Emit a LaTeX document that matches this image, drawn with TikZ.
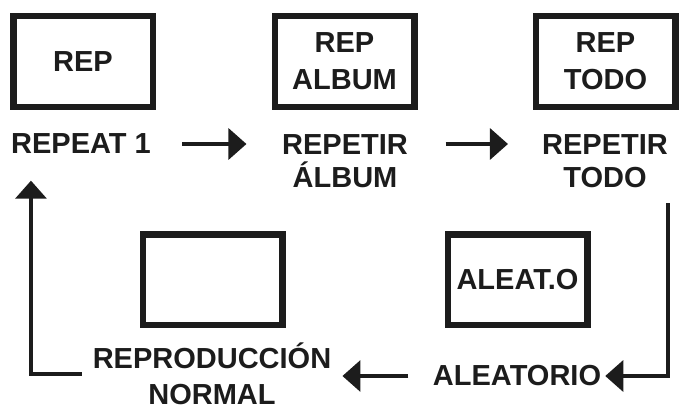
\documentclass[tikz,border=0pt]{standalone}
\usepackage{fontspec}
\setmainfont{Liberation Sans}
\usetikzlibrary{arrows.meta,calc}
\definecolor{inkBlack}{RGB}{28,28,28}
\newcommand{\bigbold}[1]{\fontsize{29}{#1}\selectfont\bfseries}
\tikzset{
  modebox/.style={draw=inkBlack,line width=6.5pt,minimum width=139.5pt,minimum height=90.5pt,
    inner sep=0pt,align=center,text=inkBlack,font={\bigbold{37}}},
  modelabel/.style={inner sep=0pt,align=center,text=inkBlack},
  flow/.style={draw=inkBlack,line width=3.4pt,-{Triangle[length=18pt,width=31pt]}}
}
\begin{document}
\begin{tikzpicture}[x=1pt,y=-1pt]
\useasboundingbox (0,0) rectangle (687,412);
% display boxes
\node[modebox] (boxRep) at (83,61.5) {REP};
\node[modebox] (boxAlb) at (344.5,61.5) {REP\\ALBUM};
\node[modebox] (boxAll) at (605.5,61.5) {REP\\TODO};
\node[modebox] (boxNorm) at (212.5,279.5) {};
\node[modebox] (boxShuf) at (517.5,279.5) {ALEAT.O};
% mode names
\node[modelabel,font={\bigbold{33}}] (labRep) at (81,144) {REPEAT 1};
\node[modelabel,font={\bigbold{33}}] (labAlb) at (345,161.25) {REPETIR\\ÁLBUM};
\node[modelabel,font={\bigbold{33}}] (labAll) at (605,161.25) {REPETIR\\TODO};
\node[modelabel,font={\bigbold{36}},inner xsep=11pt] (labNorm) at (212,374) {REPRODUCCIÓN\\NORMAL};
\node[modelabel,font={\bigbold{33}},inner xsep=4pt] (labShuf) at (517,376) {ALEATORIO};
% cycle through the modes
\draw[flow,shorten <=31pt,shorten >=35.5pt] (labRep.east) -- (labRep.east -| labAlb.west);
\draw[flow,shorten <=37.5pt,shorten >=34pt] (labRep.east -| labAlb.east) -- (labRep.east -| labAll.west);
\draw[flow] ([shift={(0,15)}]labAll.south east) |- (labShuf.east);
\draw[flow,shorten <=20.5pt] (labShuf.west) -- (labShuf.west -| labNorm.east);
\draw[flow,shorten >=26.5pt] (labNorm.west) -| ([xshift=20pt]labRep.south west);
\end{tikzpicture}
\end{document}
